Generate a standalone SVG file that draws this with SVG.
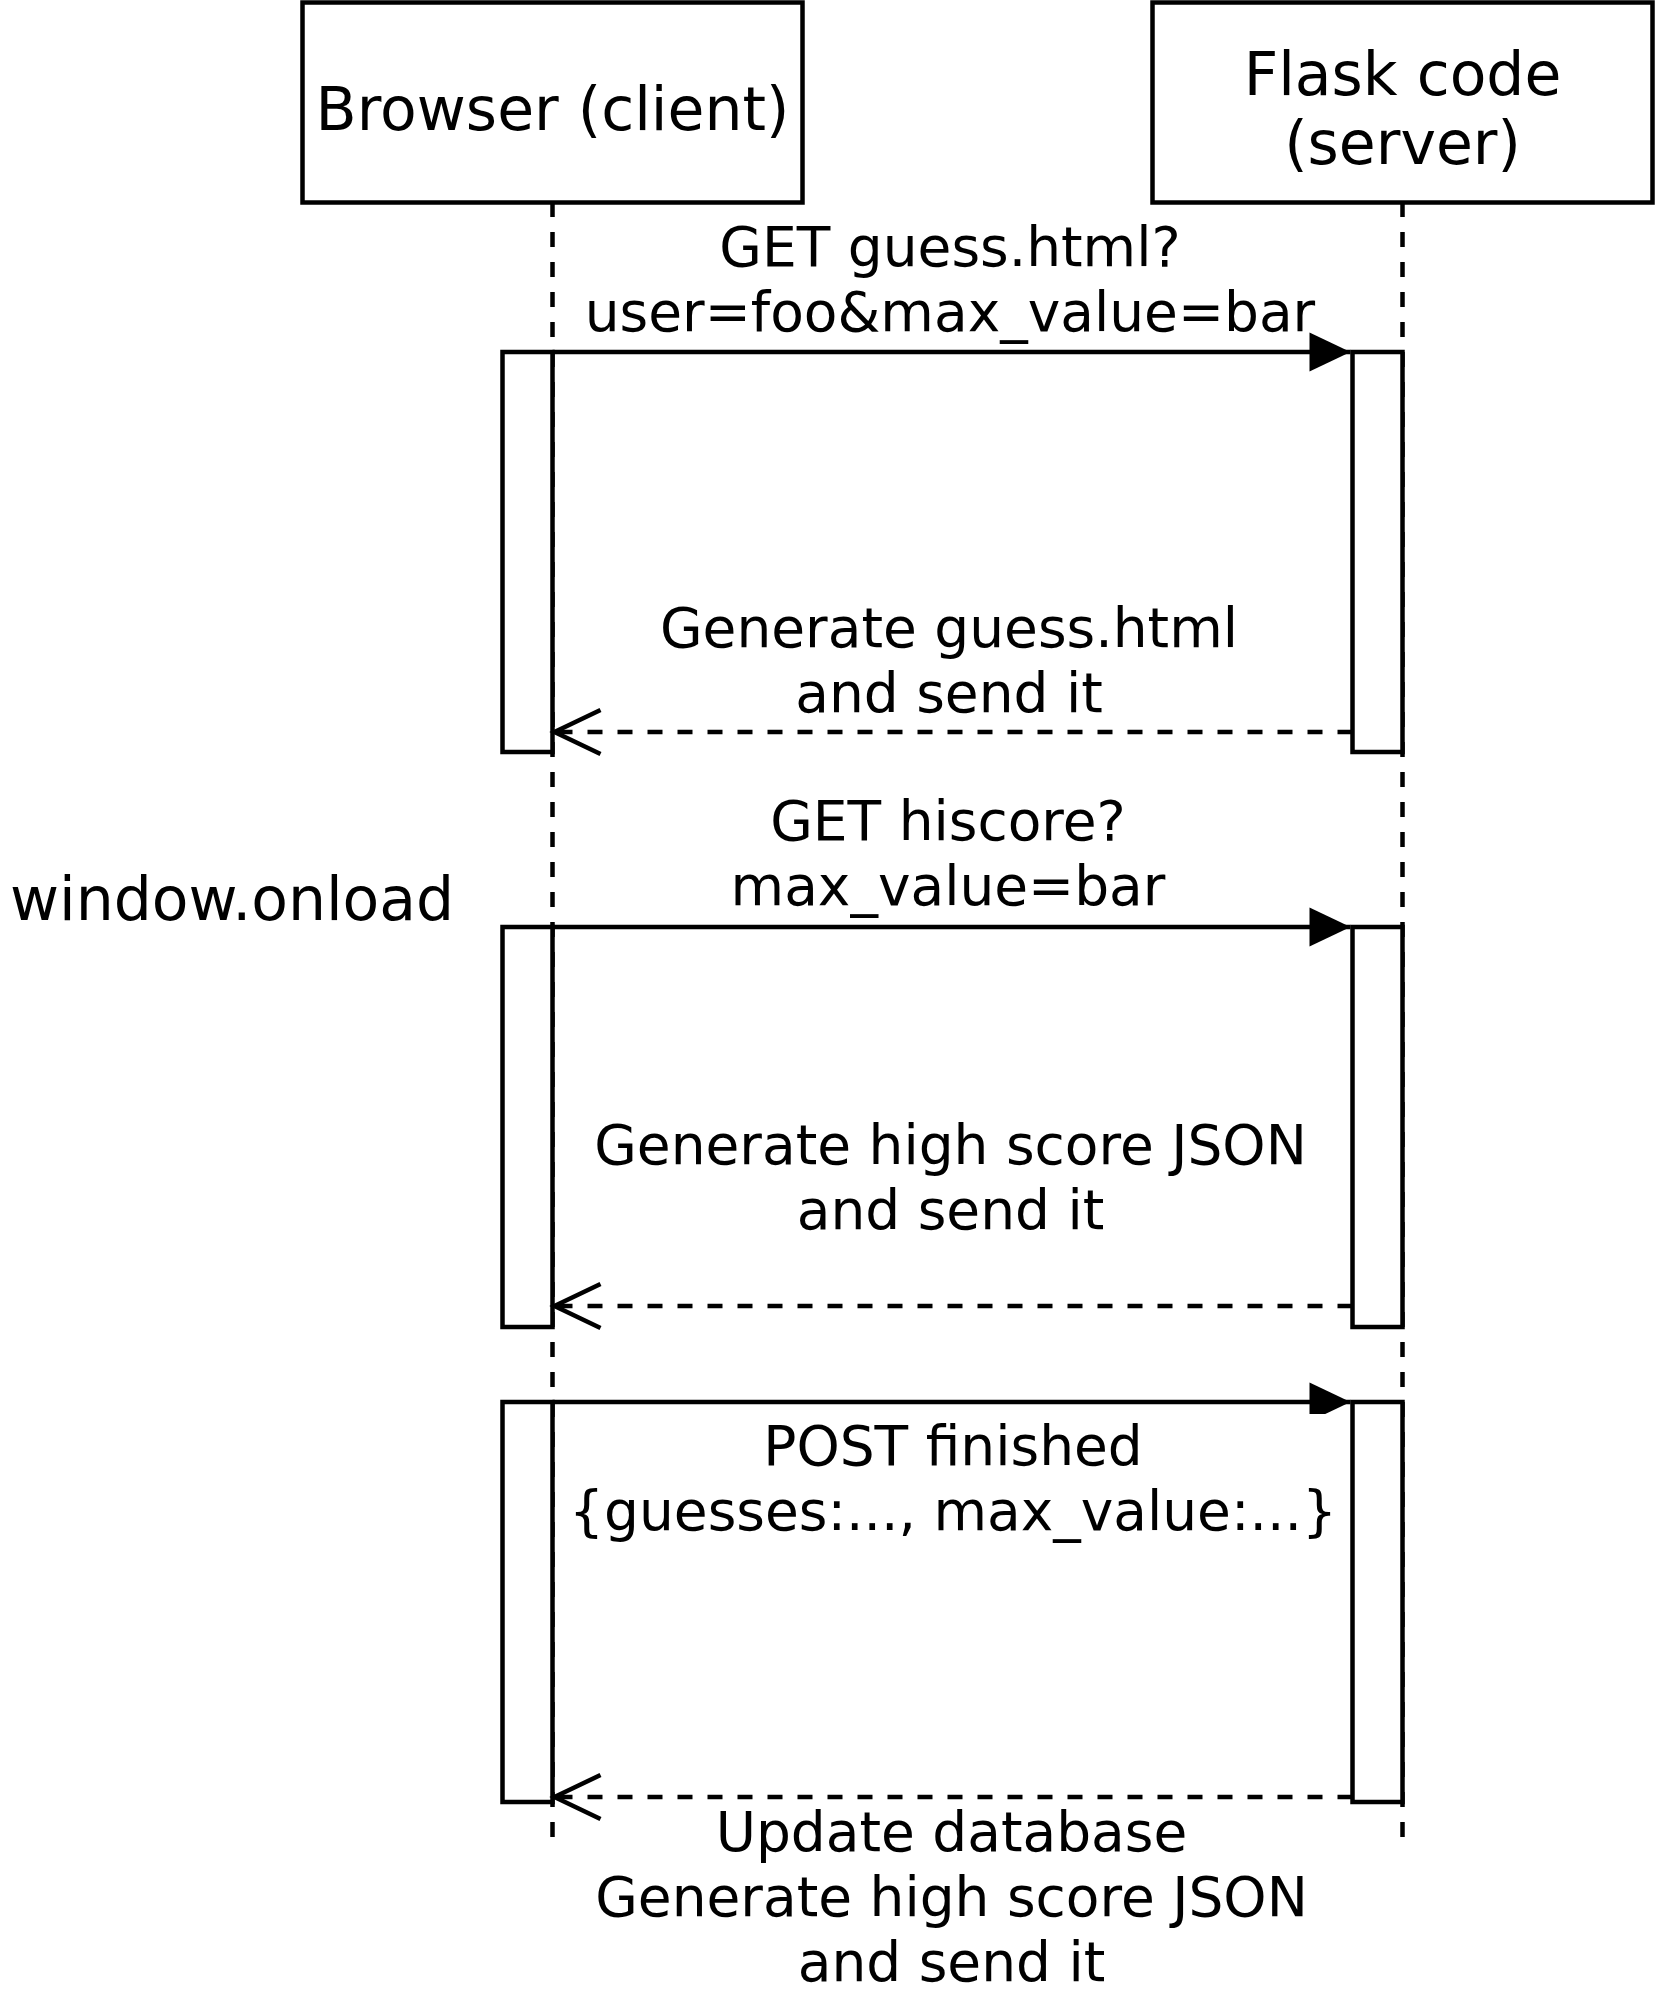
<svg xmlns="http://www.w3.org/2000/svg" width="1655" height="1990" viewBox="0 0 1655 1990">
<style>
.box{fill:#ffffff;stroke:#000000;stroke-width:4.5}
.life{fill:none;stroke:#000000;stroke-width:4.5;stroke-dasharray:15 15}
.msg{fill:none;stroke:#000000;stroke-width:4.5;marker-end:url(#filled)}
.ret{fill:none;stroke:#000000;stroke-width:4.5;stroke-dasharray:15 15;marker-end:url(#open)}
.hdr{font-family:"DejaVu Sans",sans-serif;font-size:60px;fill:#000000;text-anchor:middle}
.lbl{font-family:"DejaVu Sans",sans-serif;font-size:55px;fill:#000000;text-anchor:middle}
.note{font-family:"DejaVu Sans",sans-serif;font-size:60px;fill:#000000}
</style>
<defs>
<marker id="filled" markerUnits="userSpaceOnUse" markerWidth="42" markerHeight="40" refX="41" refY="19.5" orient="auto" overflow="visible">
<path d="M0,0 L41,19.5 L0,39 Z" fill="#000000" stroke="none"/>
</marker>
<marker id="open" markerUnits="userSpaceOnUse" markerWidth="48" markerHeight="46" refX="46" refY="22" orient="auto" overflow="visible">
<path d="M0,0 L46,22 L0,44" fill="none" stroke="#000000" stroke-width="4.5" stroke-dasharray="none"/>
</marker>
</defs>

<g id="lifelines">
<line class="life" x1="552.5" y1="202" x2="552.5" y2="1837"/>
<line class="life" x1="1402.5" y1="202" x2="1402.5" y2="1837"/>
</g>

<g id="browser">
<rect class="box" x="302.5" y="2.5" width="500" height="200"/>
<text class="hdr" x="552.5" y="130">Browser (client)</text>
</g>

<g id="flask">
<rect class="box" x="1152.5" y="2.5" width="500" height="200"/>
<text class="hdr" x="1402.5" y="95">Flask code</text>
<text class="hdr" x="1402.5" y="164">(server)</text>
</g>

<g id="activations">
<rect id="act-browser-1" class="box" x="502.5" y="352" width="50" height="400"/>
<rect id="act-flask-1" class="box" x="1352.5" y="352" width="50" height="400"/>
<rect id="act-browser-2" class="box" x="502.5" y="927" width="50" height="400"/>
<rect id="act-flask-2" class="box" x="1352.5" y="927" width="50" height="400"/>
<rect id="act-browser-3" class="box" x="502.5" y="1402" width="50" height="400"/>
<rect id="act-flask-3" class="box" x="1352.5" y="1402" width="50" height="400"/>
</g>

<g id="connectors">
<line class="msg" x1="552.5" y1="352" x2="1350.5" y2="352"/>
<line class="ret" x1="1352.5" y1="732" x2="554.5" y2="732"/>
<line class="msg" x1="552.5" y1="927" x2="1350.5" y2="927"/>
<line class="ret" x1="1352.5" y1="1306" x2="554.5" y2="1306"/>
<line class="msg" x1="552.5" y1="1402" x2="1350.5" y2="1402"/>
<line class="ret" x1="1352.5" y1="1797" x2="554.5" y2="1797"/>
</g>

<g id="labels">
<g id="label-get-guess">
<text class="lbl" x="950" y="266">GET guess.html?</text>
<text class="lbl" x="950" y="331">user=foo&amp;max_value=bar</text>
</g>
<g id="label-generate-guess">
<text class="lbl" x="949" y="647">Generate guess.html</text>
<text class="lbl" x="949" y="712">and send it</text>
</g>
<g id="label-get-hiscore">
<text class="lbl" x="948" y="840">GET hiscore?</text>
<text class="lbl" x="948" y="905">max_value=bar</text>
</g>
<g id="label-generate-json">
<text class="lbl" x="950.5" y="1164">Generate high score JSON</text>
<text class="lbl" x="950.5" y="1229">and send it</text>
</g>
<g id="label-post">
<rect x="569" y="1414" width="768" height="130" fill="#ffffff"/>
<text class="lbl" x="953" y="1465">POST finished</text>
<text class="lbl" x="953" y="1530">{guesses:..., max_value:...}</text>
</g>
<g id="label-update">
<text class="lbl" x="951.5" y="1851">Update database</text>
<text class="lbl" x="951.5" y="1916">Generate high score JSON</text>
<text class="lbl" x="951.5" y="1981">and send it</text>
</g>
<g id="window-onload">
<text class="note" x="10" y="920">window.onload</text>
</g>
</g>
</svg>
